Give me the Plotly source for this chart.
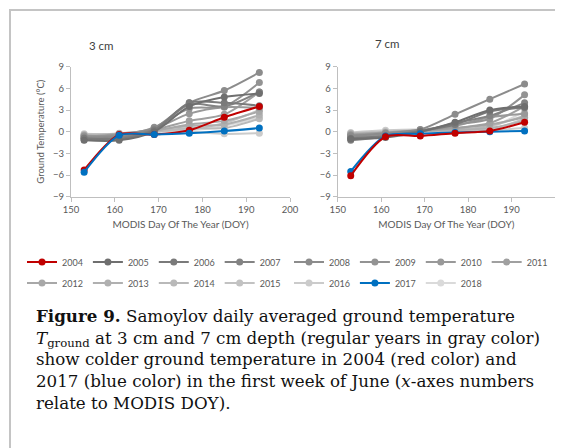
import plotly.graph_objects as go

# page body has an 8px margin; the figure fills the rest of the 563x448 window
OFF = 8
W, H = 563 - OFF, 448 - OFF

doy = [153, 161, 169, 177, 185, 193]

years = ["2004", "2005", "2006", "2007", "2008", "2009", "2010", "2011",
         "2012", "2013", "2014", "2015", "2016", "2017", "2018"]

colors = {
    "2004": "#c00000", "2005": "#6f6f6f", "2006": "#7a7a7a", "2007": "#838383",
    "2008": "#8c8c8c", "2009": "#939393", "2010": "#999999", "2011": "#a0a0a0",
    "2012": "#a8a8a8", "2013": "#b0b0b0", "2014": "#b9b9b9", "2015": "#c2c2c2",
    "2016": "#cbcbcb", "2017": "#0070c0", "2018": "#dadada",
}

t3 = {
    "2004": [-5.3, -0.4, -0.4, 0.2, 2.0, 3.5],
    "2005": [-1.2, -1.2, 0.0, 3.5, 4.8, 5.3],
    "2006": [-0.9, -1.0, 0.2, 4.0, 4.0, 3.6],
    "2007": [-1.0, -0.8, 0.3, 3.8, 3.5, 5.5],
    "2008": [-0.8, -0.6, 0.5, 4.0, 5.7, 8.2],
    "2009": [-0.6, -0.5, 0.6, 3.2, 3.5, 6.8],
    "2010": [-1.1, -0.4, 0.4, 2.5, 3.4, 3.3],
    "2011": [-0.7, -0.3, 0.3, 1.5, 2.4, 5.5],
    "2012": [-0.5, -0.6, 0.1, 1.0, 1.5, 2.8],
    "2013": [-0.9, -0.5, 0.2, 0.8, 1.0, 2.3],
    "2014": [-0.4, -0.3, 0.0, 0.5, 0.5, 1.8],
    "2015": [-0.6, -0.2, 0.1, 0.3, 1.2, 3.0],
    "2016": [-0.3, -0.4, 0.0, 0.0, -0.3, -0.2],
    "2017": [-5.6, -0.5, -0.4, -0.2, 0.1, 0.5],
    "2018": [-0.5, -0.3, 0.1, 0.2, 0.8, 2.0],
}

t7 = {
    "2004": [-6.1, -0.7, -0.6, -0.2, 0.1, 1.3],
    "2005": [-1.0, -0.8, 0.0, 1.3, 3.0, 3.5],
    "2006": [-0.9, -0.6, 0.1, 1.0, 2.8, 3.3],
    "2007": [-1.2, -0.7, 0.0, 1.2, 2.2, 4.0],
    "2008": [-0.6, -0.2, 0.3, 2.4, 4.5, 6.6],
    "2009": [-0.5, -0.3, 0.2, 1.0, 1.8, 5.1],
    "2010": [-0.8, -0.4, 0.1, 0.8, 2.0, 2.5],
    "2011": [-0.4, -0.1, 0.2, 0.5, 1.2, 3.5],
    "2012": [-0.7, -0.5, 0.0, 0.5, 1.0, 2.0],
    "2013": [-0.3, -0.2, 0.1, 0.2, 0.5, 1.5],
    "2014": [-0.2, 0.0, 0.2, 0.3, 0.8, 2.2],
    "2015": [-0.5, -0.3, 0.0, 0.2, 0.3, 1.8],
    "2016": [-0.1, 0.2, 0.3, 0.1, 0.2, 0.5],
    "2017": [-5.5, -0.6, -0.3, -0.1, 0.0, 0.1],
    "2018": [-0.4, -0.1, 0.1, 0.2, 0.6, 2.8],
}

legend_of = {}
for y in ["2004", "2005", "2006", "2007"]:
    legend_of[y] = "legend"
for y in ["2012", "2013", "2014", "2015"]:
    legend_of[y] = "legend2"
for y in ["2008", "2009", "2010", "2011"]:
    legend_of[y] = "legend3"
for y in ["2016", "2017", "2018"]:
    legend_of[y] = "legend4"

FONT = "Lato"
TICKC = "#595959"

fig = go.Figure()

gray = [y for y in years if y not in ("2004", "2017")]
order3 = gray[::-1] + ["2004", "2017"]
order7 = gray[::-1] + ["2017", "2004"]

for y in order3:
    fig.add_trace(go.Scatter(
        x=doy, y=t3[y], name=y, mode="lines+markers",
        line=dict(color=colors[y], width=2, shape="spline", smoothing=0.8),
        marker=dict(color=colors[y], size=7),
        xaxis="x", yaxis="y", legend=legend_of[y], legendgroup=y,
        legendrank=years.index(y), showlegend=True))
for y in order7:
    fig.add_trace(go.Scatter(
        x=doy, y=t7[y], name=y, mode="lines+markers",
        line=dict(color=colors[y], width=2, shape="spline", smoothing=0.8),
        marker=dict(color=colors[y], size=7),
        xaxis="x2", yaxis="y2", legendgroup=y, showlegend=False))

def px(v):
    return (v - OFF) / W

def py(v):
    return 1 - (v - OFF) / H

axis_common = dict(
    showgrid=False, zeroline=False, showline=True, linecolor="#bfbfbf",
    linewidth=1, ticks="outside", ticklen=4, tickcolor="#bfbfbf",
    tickfont=dict(family=FONT, size=9.5, color=TICKC),
)

xt = dict(range=[150, 200], tickvals=[150, 160, 170, 180, 190, 200], **axis_common)
yt = dict(range=[-9, 9], tickvals=[-9, -6, -3, 0, 3, 6, 9], **axis_common)

fig.update_layout(
    width=W, height=H,
    margin=dict(l=0, r=0, t=0, b=0, autoexpand=False),
    paper_bgcolor="white", plot_bgcolor="white",
    xaxis=dict(domain=[px(71), px(290)], anchor="y",
               title=dict(text="MODIS Day Of The Year (DOY)", standoff=6,
                          font=dict(family=FONT, size=10, color=TICKC)), **xt),
    yaxis=dict(domain=[py(196.7), py(66.7)], anchor="x",
               title=dict(text="Ground Temperature (°C)", standoff=6,
                          font=dict(family=FONT, size=9.5, color=TICKC)), **yt),
    xaxis2=dict(domain=[px(337.7), px(555)], anchor="y2",
                title=dict(text="MODIS Day Of The Year (DOY)", standoff=6,
                           font=dict(family=FONT, size=10, color=TICKC)), **xt),
    yaxis2=dict(domain=[py(196.7), py(66.7)], anchor="x2", **yt),
    showlegend=True,
)

leg_common = dict(orientation="h", xanchor="left", yanchor="middle",
                  font=dict(family=FONT, size=9, color=TICKC),
                  bgcolor="rgba(0,0,0,0)", itemwidth=30, tracegroupgap=0,
                  traceorder="normal")
fig.update_layout(
    legend=dict(x=px(22), y=py(262), **leg_common),
    legend2=dict(x=px(22), y=py(283), **leg_common),
    legend3=dict(x=px(289), y=py(262), **leg_common),
    legend4=dict(x=px(289), y=py(283), **leg_common),
)

fig.add_annotation(text="3 cm", xref="paper", yref="paper", x=px(101), y=py(45),
                   xanchor="center", yanchor="middle", showarrow=False,
                   font=dict(family=FONT, size=11.5, color="#404040"))
fig.add_annotation(text="7 cm", xref="paper", yref="paper", x=px(387), y=py(43),
                   xanchor="center", yanchor="middle", showarrow=False,
                   font=dict(family=FONT, size=11.5, color="#404040"))

caption = ("<b>Figure 9.</b> Samoylov daily averaged ground temperature<br>"
           "<i>T</i><sub>ground</sub> at 3 cm and 7 cm depth (regular years in gray color)<br>"
           "show colder ground temperature in 2004 (red color) and<br>"
           "2017 (blue color) in the first week of June (<i>x</i>-axes numbers<br>"
           "relate to MODIS DOY).")
fig.add_annotation(text=caption, xref="paper", yref="paper", x=px(34), y=py(304),
                   xanchor="left", yanchor="top", align="left", showarrow=False,
                   font=dict(family="DejaVu Serif", size=16.7, color="#111111"))

fig.add_shape(type="rect", xref="paper", yref="paper",
              x0=px(10), x1=px(620), y0=py(520), y1=py(10),
              line=dict(color="#c4c4c4", width=2), fillcolor="rgba(0,0,0,0)")

fig.write_html("out.html", config={"displayModeBar": False})
